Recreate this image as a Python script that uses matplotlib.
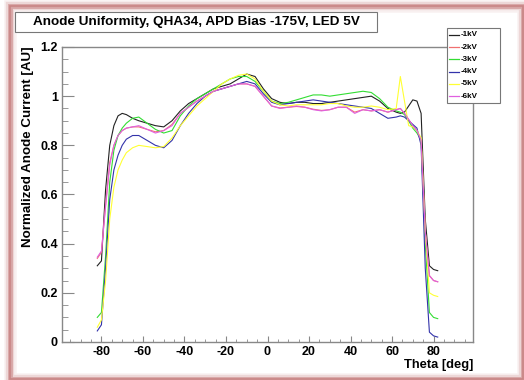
import matplotlib
matplotlib.use("Agg")
import matplotlib.pyplot as plt
from matplotlib.patches import Rectangle
from matplotlib.lines import Line2D
from matplotlib.ticker import MultipleLocator

plt.rcParams['font.family'] = ['Liberation Sans', 'DejaVu Sans']
plt.rcParams['axes.unicode_minus'] = False

theta = [-82, -80, -78, -76, -74, -72, -70, -68, -65, -62, -58, -54, -50, -46, -42,
         -38, -34, -30, -26, -22, -18, -14, -10, -6, -2, 2, 6, 10, 14, 18, 22, 26,
         30, 34, 38, 42, 46, 50, 54, 58, 62, 64, 66, 68, 70, 72, 74, 76, 78, 80, 82]

kv1 = [0.31, 0.33, 0.62, 0.80, 0.88, 0.92, 0.93, 0.925, 0.91, 0.90, 0.89, 0.88, 0.875,
       0.90, 0.94, 0.97, 0.99, 1.01, 1.03, 1.04, 1.05, 1.07, 1.09, 1.08, 1.03, 0.99,
       0.975, 0.97, 0.975, 0.975, 0.97, 0.97, 0.975, 0.98, 0.985, 0.99, 0.995, 1.00,
       0.98, 0.95, 0.935, 0.93, 0.935, 0.96, 0.985, 0.98, 0.93, 0.50, 0.31, 0.295, 0.29]
kv2 = [0.34, 0.365, 0.56, 0.73, 0.80, 0.84, 0.86, 0.87, 0.875, 0.875, 0.865, 0.855,
       0.86, 0.885, 0.93, 0.955, 0.98, 1.0, 1.02, 1.03, 1.04, 1.05, 1.05, 1.04, 1.0,
       0.96, 0.952, 0.955, 0.958, 0.955, 0.947, 0.942, 0.945, 0.955, 0.955, 0.935,
       0.945, 0.94, 0.945, 0.935, 0.945, 0.95, 0.93, 0.905, 0.88, 0.86, 0.82, 0.45,
       0.27, 0.25, 0.245]
kv3 = [0.10, 0.12, 0.35, 0.65, 0.78, 0.84, 0.87, 0.89, 0.91, 0.915, 0.89, 0.865, 0.85,
       0.86, 0.92, 0.96, 0.99, 1.01, 1.03, 1.05, 1.07, 1.08, 1.08, 1.06, 1.02, 0.98,
       0.97, 0.975, 0.985, 0.995, 1.005, 1.005, 1.0, 1.005, 1.01, 1.015, 1.02, 1.015,
       0.99, 0.955, 0.94, 0.935, 0.925, 0.90, 0.87, 0.85, 0.82, 0.40, 0.12, 0.10, 0.095]
kv4 = [0.045, 0.07, 0.30, 0.58, 0.70, 0.76, 0.80, 0.825, 0.84, 0.84, 0.82, 0.80, 0.79,
       0.82, 0.88, 0.93, 0.97, 1.0, 1.02, 1.03, 1.04, 1.05, 1.06, 1.05, 1.01, 0.975,
       0.965, 0.97, 0.975, 0.98, 0.985, 0.98, 0.975, 0.97, 0.965, 0.96, 0.955, 0.95,
       0.93, 0.91, 0.915, 0.92, 0.915, 0.90, 0.885, 0.87, 0.80, 0.30, 0.04, 0.025, 0.02]
kv5 = [0.06, 0.09, 0.25, 0.50, 0.63, 0.70, 0.74, 0.77, 0.79, 0.80, 0.795, 0.79, 0.795,
       0.83, 0.88, 0.92, 0.96, 0.99, 1.02, 1.05, 1.07, 1.085, 1.09, 1.07, 1.02, 0.98,
       0.965, 0.96, 0.965, 0.965, 0.965, 0.965, 0.97, 0.97, 0.96, 0.955, 0.955, 0.96,
       0.955, 0.945, 0.95, 1.08, 0.98, 0.88, 0.875, 0.86, 0.83, 0.45, 0.20, 0.19, 0.185]
kv6 = [0.345, 0.37, 0.55, 0.72, 0.80, 0.84, 0.86, 0.87, 0.875, 0.88, 0.865, 0.85, 0.86,
       0.88, 0.93, 0.955, 0.98, 1.0, 1.02, 1.03, 1.04, 1.05, 1.05, 1.04, 1.0, 0.96,
       0.95, 0.955, 0.96, 0.955, 0.945, 0.94, 0.945, 0.955, 0.955, 0.93, 0.945, 0.94,
       0.945, 0.935, 0.945, 0.95, 0.93, 0.905, 0.88, 0.86, 0.82, 0.45, 0.27, 0.25, 0.245]

labels = ['-1kV', '-2kV', '-3kV', '-4kV', '-5kV', '-6kV']
colors = ['#222222', '#f07070', '#33dd33', '#3333aa', '#ffff33', '#e060e0']

W, H = 524, 380
fig = plt.figure(figsize=(W / 100, H / 100), dpi=100)
fig.patch.set_facecolor('white')


def fx(px):
    return px / W


def fy(py):
    return 1 - py / H


# reddish shadow frame around the canvas
for lw, a in [(9, 0.08), (6, 0.15), (3.5, 0.35)]:
    fig.patches.append(Rectangle((fx(10), fy(379)), fx(513), 373 / H, transform=fig.transFigure,
                                 fill=False, edgecolor='#b04a4a', lw=lw, alpha=a, zorder=-2))
fig.patches.append(Rectangle((fx(10), fy(379)), fx(513), 373 / H, transform=fig.transFigure,
                             fill=False, edgecolor='#c98585', lw=1.2, zorder=-1))

ax = fig.add_axes([fx(62), fy(342), fx(411), 295 / H])
ax.set_facecolor('none')
for y, lab, c in zip([kv1, kv2, kv3, kv4, kv5, kv6], labels, colors):
    ax.plot(theta, y, color=c, lw=0.8, label=lab)

ax.set_xlim(-99, 99)
ax.set_ylim(0, 1.2)
ax.xaxis.set_major_locator(MultipleLocator(20))
ax.xaxis.set_minor_locator(MultipleLocator(5))
ax.yaxis.set_major_locator(MultipleLocator(0.2))
ax.yaxis.set_minor_locator(MultipleLocator(0.05))
ax.set_xticks([-80, -60, -40, -20, 0, 20, 40, 60, 80])
ax.yaxis.set_major_formatter(plt.FuncFormatter(lambda v, p: '%g' % round(v, 2)))
ax.tick_params(axis='x', which='major', direction='in', length=4.5, color='#888888',
               labelsize=9, pad=3)
ax.tick_params(axis='x', which='minor', direction='in', length=2.2, color='#888888')
ax.tick_params(axis='y', which='major', direction='in', length=8.5, color='#888888',
               labelsize=9, pad=3)
ax.tick_params(axis='y', which='minor', direction='in', length=4.3, color='#888888')
for lab in ax.get_xticklabels() + ax.get_yticklabels():
    lab.set_fontweight('bold')
for s in ax.spines.values():
    s.set_color('#888888')
    s.set_linewidth(1)

# axis titles, ROOT style
fig.text(fx(28), fy(46), 'Normalized Anode Current [AU]', rotation=90, ha='center', va='top',
         fontsize=9.6, fontweight='bold')
fig.text(fx(473), fy(365), 'Theta [deg]', ha='right', va='center', fontsize=9.3, fontweight='bold')

# title box
fig.patches.append(Rectangle((fx(15), fy(32)), fx(362), 20 / H, transform=fig.transFigure,
                             facecolor='white', edgecolor='#777777', lw=0.8, zorder=3))
fig.text(fx(196), fy(22), 'Anode Uniformity, QHA34, APD Bias -175V, LED 5V', ha='center',
         va='center', fontsize=9.7, fontweight='bold', zorder=4)

# legend box
fig.patches.append(Rectangle((fx(447), fy(103)), fx(53), 75 / H, transform=fig.transFigure,
                             facecolor='white', edgecolor='#777777', lw=0.8, zorder=3))
for i, (lab, c) in enumerate(zip(labels, colors)):
    yy = 35 + i * 12.2
    fig.lines.append(Line2D([fx(449), fx(459)], [fy(yy), fy(yy)], transform=fig.transFigure,
                            color=c, lw=0.9, zorder=4))
    fig.text(fx(461), fy(yy), lab, ha='left', va='center', fontsize=5.8, fontweight='bold',
             zorder=4)

fig.savefig('out.png', dpi=100)
